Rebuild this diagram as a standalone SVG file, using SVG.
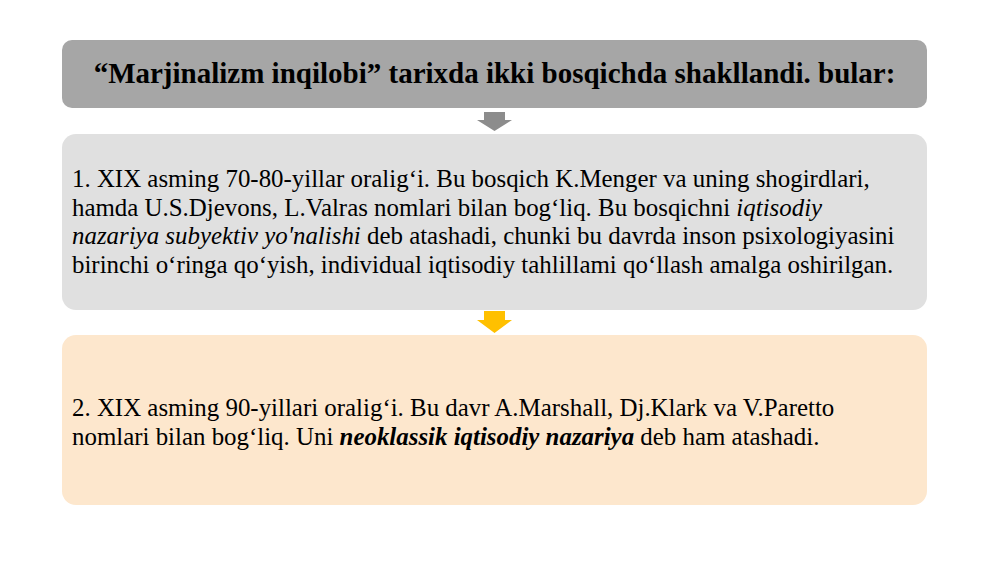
<svg xmlns="http://www.w3.org/2000/svg" width="1000" height="562" viewBox="0 0 1000 562">
<style>
.t{font-family:"Liberation Serif","Times New Roman",serif;fill:#000}
.body{font-size:24.9px}
.title{font-size:29px;font-weight:bold}
</style>
<rect width="1000" height="562" fill="#ffffff"/>
<g id="connectors">
<polygon points="484,112 505,112 505,120 512,120 494.5,131 477,120 484,120" fill="#8c8c8c"/>
<polygon points="484,311 505,311 505,320 512,320 494.5,333 477,320 484,320" fill="#ffc000"/>
</g>
<g id="node-title">
<rect x="62" y="40" width="865" height="68" rx="10" fill="#a6a6a6"/>
<text class="t title" x="494.5" y="83" text-anchor="middle">“Marjinalizm inqilobi” tarixda ikki bosqichda shakllandi. bular:</text>
</g>
<g id="node-stage1">
<rect x="62" y="134" width="865" height="176" rx="14" fill="#e0e0e0"/>
<text class="t body" x="72" y="187">1. XIX asming 70-80-yillar oralig‘i. Bu bosqich K.Menger va uning shogirdlari,</text>
<text class="t body" x="72" y="215.5">hamda U.S.Djevons, L.Valras nomlari bilan bog‘liq. Bu bosqichni <tspan font-style="italic">iqtisodiy</tspan></text>
<text class="t body" x="72" y="244"><tspan font-style="italic">nazariya subyektiv yo'nalishi</tspan> deb atashadi, chunki bu davrda inson psixologiyasini</text>
<text class="t body" x="72" y="272.5">birinchi o‘ringa qo‘yish, individual iqtisodiy tahlillami qo‘llash amalga oshirilgan.</text>
</g>
<g id="node-stage2">
<rect x="62" y="335" width="865" height="170" rx="14" fill="#fde7cd"/>
<text class="t body" x="72" y="416">2. XIX asming 90-yillari oralig‘i. Bu davr A.Marshall, Dj.Klark va V.Paretto</text>
<text class="t body" x="72" y="444.5">nomlari bilan bog‘liq. Uni <tspan font-weight="bold" font-style="italic">neoklassik iqtisodiy nazariya</tspan> deb ham atashadi.</text>
</g>
</svg>
